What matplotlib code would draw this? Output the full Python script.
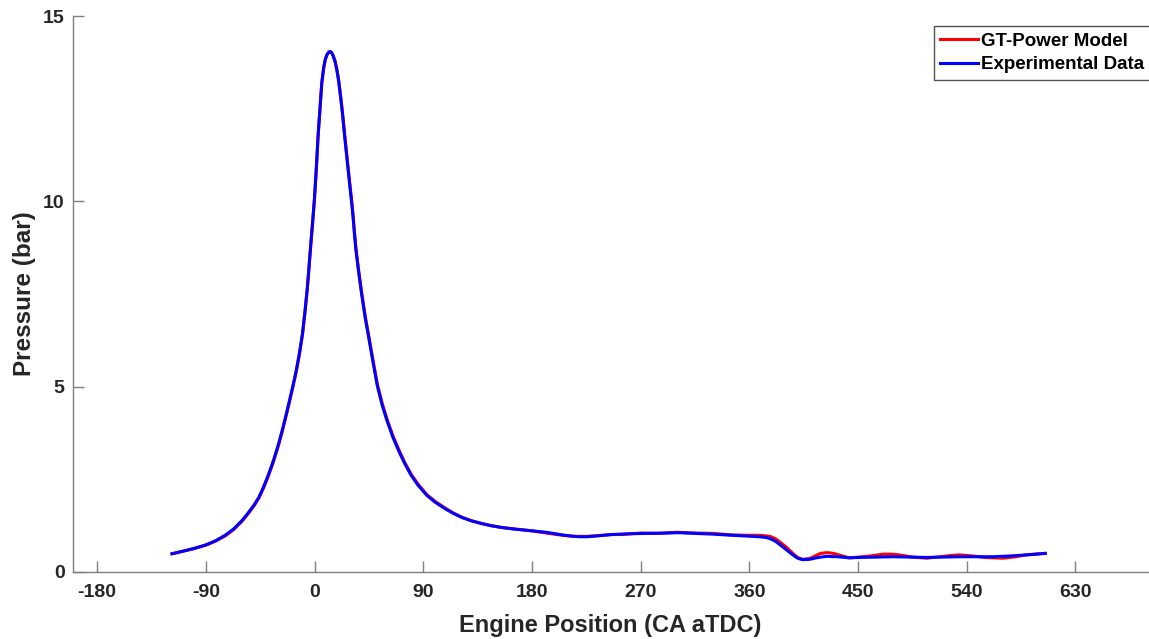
import matplotlib
matplotlib.use("Agg")
import matplotlib.pyplot as plt

plt.rcParams["font.family"] = ["Liberation Sans", "DejaVu Sans"]
plt.rcParams["font.weight"] = "bold"
plt.rcParams["axes.unicode_minus"] = False

# Crank angle (deg aTDC) and in-cylinder pressure (bar), experimental trace
exp_angle = [-118, -110, -100, -90, -82, -74, -67, -60, -55, -50, -46, -42,
             -38, -34, -30, -27, -24, -21, -18, -15, -12.5, -10, -8, -6, -4.5,
             -3, -1.5, 0, 1.5, 3, 4.5, 6, 7.5, 9, 10.5, 12, 13, 14, 15.5, 17,
             18.5, 20, 21.5, 23, 25, 27, 29, 31, 32, 33, 34.3, 36.5, 39, 42,
             45, 48.5, 52, 56, 60, 65, 70, 75, 80, 86, 93, 100, 108, 115, 122,
             130, 138, 146, 155, 165, 180, 192, 205, 212, 219, 226, 233, 240,
             247, 260, 275, 290, 302, 315, 330, 345, 357, 368, 374, 378, 382,
             386, 391, 396, 400, 404, 410, 417, 424, 433, 443, 451, 465, 479,
             493, 507, 520, 534, 548, 562, 576, 590, 605]
exp_pressure = [0.48, 0.54, 0.62, 0.72, 0.83, 0.98, 1.15, 1.38, 1.58, 1.80,
                2.01, 2.30, 2.63, 3.00, 3.42, 3.78, 4.17, 4.58, 5.00, 5.45,
                5.90, 6.42, 7.00, 7.65, 8.25, 8.88, 9.47, 10.10, 10.90, 11.80,
                12.50, 13.20, 13.60, 13.85, 13.98, 14.04, 14.05, 14.03, 13.93,
                13.78, 13.55, 13.25, 12.85, 12.42, 11.75, 11.12, 10.50, 9.90,
                9.55, 9.15, 8.69, 8.10, 7.50, 6.85, 6.30, 5.65, 5.02, 4.50,
                4.08, 3.62, 3.24, 2.90, 2.60, 2.32, 2.06, 1.87, 1.70, 1.57,
                1.46, 1.37, 1.30, 1.24, 1.19, 1.15, 1.10, 1.06, 0.99, 0.96,
                0.94, 0.94, 0.96, 0.98, 1.00, 1.02, 1.03, 1.04, 1.05, 1.03,
                1.01, 0.98, 0.96, 0.94, 0.92, 0.88, 0.81, 0.71, 0.58, 0.45,
                0.36, 0.32, 0.33, 0.38, 0.41, 0.40, 0.37, 0.38, 0.39, 0.40,
                0.39, 0.38, 0.39, 0.40, 0.40, 0.40, 0.42, 0.45, 0.49]

# GT-Power simulated trace
model_angle = [-118, -110, -100, -90, -82, -74, -67, -60, -55, -50, -46, -42,
               -38, -34, -30, -27, -24, -21, -18, -15, -12.5, -10, -8, -6,
               -4.5, -3, -1.5, 0, 1.5, 3, 4.5, 6, 7.5, 9, 10.5, 12, 13, 14,
               15.5, 17, 18.5, 20, 21.5, 23, 25, 27, 29, 31, 32, 33, 34.3,
               36.5, 39, 42, 45, 48.5, 52, 56, 60, 65, 70, 75, 80, 86, 93, 100,
               108, 115, 122, 130, 138, 146, 155, 165, 180, 192, 205, 215, 225,
               235, 245, 255, 262, 270, 285, 300, 315, 330, 345, 357, 368, 375,
               378, 382, 386, 391, 396, 400, 404, 410, 415, 419, 424, 428, 432,
               437, 443, 451, 460, 471, 478, 484, 495, 507, 518, 526, 534, 545,
               555, 562, 570, 581, 589, 605]
model_pressure = [0.48, 0.54, 0.62, 0.71, 0.82, 0.96, 1.13, 1.36, 1.56, 1.78,
                  1.99, 2.27, 2.60, 2.97, 3.39, 3.75, 4.14, 4.55, 4.97, 5.42,
                  5.87, 6.39, 6.97, 7.62, 8.23, 8.86, 9.45, 10.08, 10.88,
                  11.78, 12.48, 13.19, 13.59, 13.85, 13.98, 14.04, 14.05,
                  14.03, 13.94, 13.80, 13.58, 13.28, 12.89, 12.46, 11.80,
                  11.17, 10.55, 9.95, 9.60, 9.20, 8.74, 8.15, 7.55, 6.90, 6.35,
                  5.70, 5.07, 4.55, 4.12, 3.66, 3.28, 2.93, 2.63, 2.35, 2.08,
                  1.89, 1.72, 1.58, 1.47, 1.37, 1.30, 1.24, 1.19, 1.15, 1.10,
                  1.04, 0.98, 0.95, 0.95, 0.97, 1.00, 1.00, 1.02, 1.04, 1.03,
                  1.06, 1.04, 1.03, 0.99, 0.98, 0.98, 0.96, 0.94, 0.88, 0.78,
                  0.65, 0.49, 0.38, 0.33, 0.35, 0.43, 0.49, 0.51, 0.50, 0.47,
                  0.42, 0.37, 0.39, 0.42, 0.47, 0.47, 0.45, 0.39, 0.36, 0.40,
                  0.43, 0.45, 0.42, 0.38, 0.37, 0.36, 0.40, 0.45, 0.49]

x_ticks = [-180, -90, 0, 90, 180, 270, 360, 450, 540, 630]
y_ticks = [0, 5, 10, 15]

fig = plt.figure(figsize=(11.49, 6.39), dpi=100)
ax = fig.add_axes([0.0635, 0.1056, 0.9355, 0.8686])

ax.plot(model_angle, model_pressure, color="#ff0000", lw=2.2,
        solid_joinstyle="round", label="GT-Power Model")
ax.plot(exp_angle, exp_pressure, color="#0000ff", lw=2.2,
        solid_joinstyle="round", label="Experimental Data")

ax.set_xlim(-200, 690)
ax.set_ylim(0, 15)
ax.set_xticks(x_ticks)
ax.set_yticks(y_ticks)

for side in ("top", "right"):
    ax.spines[side].set_visible(False)
for side in ("left", "bottom"):
    ax.spines[side].set_color("#7f7f7f")
    ax.spines[side].set_linewidth(1.0)

ax.tick_params(direction="in", length=8, width=1.0, color="#7f7f7f",
               labelsize=14, labelcolor="#262626")
ax.tick_params(axis="x", pad=9)
ax.tick_params(axis="y", pad=6)
for lab in ax.get_xticklabels() + ax.get_yticklabels():
    lab.set_fontweight("bold")

ax.set_xlabel("Engine Position (CA aTDC)", fontsize=17, fontweight="bold",
              color="#262626", labelpad=9)
ax.set_ylabel("Pressure (bar)", fontsize=17.5, fontweight="bold",
              color="#262626", labelpad=5)

leg = ax.legend(loc="upper right", bbox_to_anchor=(1.003, 0.983),
                fontsize=13.5, frameon=True, fancybox=False, handlelength=2.0,
                handletextpad=0.2, borderpad=0.35, labelspacing=0.35,
                borderaxespad=0.0)
leg.get_frame().set_edgecolor("#262626")
leg.get_frame().set_linewidth(1.0)
for t in leg.get_texts():
    t.set_fontweight("bold")
    t.set_color("#000000")

fig.savefig("out.png", dpi=100)
